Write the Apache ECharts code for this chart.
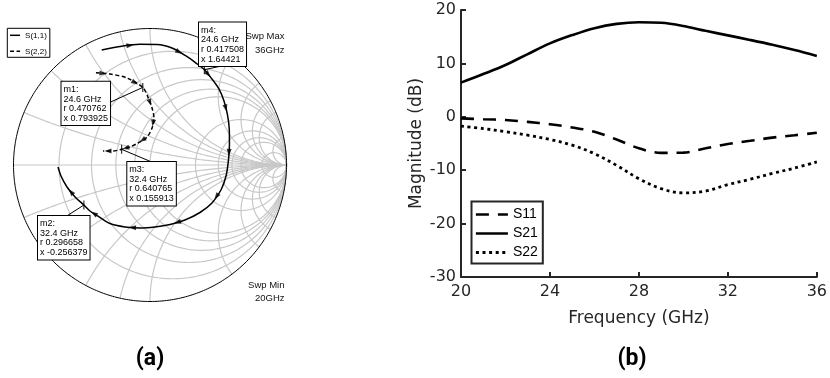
<!DOCTYPE html>
<html><head><meta charset="utf-8">
<script src="https://cdn.jsdelivr.net/npm/echarts@6/dist/echarts.min.js"></script>
<style>html,body{margin:0;padding:0;background:#fff}#c{width:830px;height:378px}</style>
</head><body><div id="c"></div>
<script>
// ---------- (b) S-parameter magnitudes (dB) ----------
const freqGHz = [20,21,22,23,24,25,26,27,28,29,30,31,32,33,34,35,36];
const s11dB = [-0.3,-0.45,-0.6,-0.95,-1.4,-2.0,-2.8,-4.25,-5.9,-6.75,-6.7,-5.9,-5.1,-4.5,-3.9,-3.45,-3.0];
const s21dB = [6.4,8.0,9.7,11.75,13.75,15.3,16.6,17.4,17.7,17.6,17.0,16.1,15.25,14.4,13.5,12.5,11.4];
const s22dB = [-1.75,-2.2,-2.8,-3.45,-4.25,-5.3,-6.9,-9.1,-11.6,-13.45,-14.25,-13.9,-12.7,-11.7,-10.6,-9.6,-8.45];
const xTickStep = 4;
const yTickStep = 10;

// ---------- (a) Smith chart traces: reflection coefficient (re, im), 20 -> 36 GHz ----------
const s11Re = [-0.354,-0.220,-0.073,0.051,0.161,0.264,0.337,0.398,0.454,0.505,0.542,0.568,0.581,0.582,0.575,0.557,0.520,0.454,0.366,0.256,0.147,0.037,-0.073,-0.183,-0.293,-0.381,-0.440,-0.484,-0.549,-0.608,-0.652,-0.674];
const s11Im = [0.842,0.868,0.884,0.883,0.857,0.799,0.747,0.698,0.630,0.557,0.469,0.366,0.256,0.147,0.037,-0.081,-0.183,-0.278,-0.348,-0.403,-0.436,-0.454,-0.462,-0.454,-0.429,-0.374,-0.337,-0.294,-0.234,-0.161,-0.081,-0.015];
const s22Re = [-0.396,-0.293,-0.168,-0.053,-0.015,0.015,0.029,0.015,-0.022,-0.088,-0.147,-0.208,-0.271,-0.344];
const s22Im = [0.676,0.667,0.637,0.568,0.498,0.418,0.344,0.271,0.205,0.161,0.132,0.115,0.103,0.103];

// markers (normalized impedance)
const markerNames = ['m1','m2','m3','m4'];
const markerFreq = [24.6, 32.4, 32.4, 24.6];
const markerR = [0.470762, 0.296658, 0.640765, 0.417508];
const markerX = [0.793925, -0.256379, 0.155913, 1.64421];
const sweepMinGHz = 20, sweepMaxGHz = 36;

// Smith grid values
const gridR = [0.2,0.4,0.6,0.8,1,2,3,4,5,10];
const gridX = [0.2,0.4,0.6,0.8,1,2,3,4,5,10];

// ---------- helpers ----------
function z2g(r, x){ const d=(r+1)*(r+1)+x*x; return [(r*r-1+x*x)/d, 2*x/d]; }
const GRID_COLOR = '#c8c8c8';
function gridLine(pts, color, width){
  return {type:'line', xAxisIndex:0, yAxisIndex:0, data:pts, symbol:'none', silent:true,
    lineStyle:{color:color, width:width}, z:1, clip:false};
}
const series = [];
gridR.forEach(r=>{
  const c=r/(1+r), rho=1/(1+r), pts=[];
  for(let i=0;i<=240;i++){const p=2*Math.PI*i/240; pts.push([c+rho*Math.cos(p), rho*Math.sin(p)]);}
  series.push(gridLine(pts, GRID_COLOR, 1.2));
});
gridX.forEach(xv=>{
  [xv,-xv].forEach(x=>{
    const pts=[];
    for(let i=0;i<=220;i++){const t=i/220; const r=t<1? t/(1-t) : 1e9; pts.push(z2g(r,x));}
    series.push(gridLine(pts, GRID_COLOR, 1.2));
  });
});
series.push(gridLine([[-1,0],[1,0]], GRID_COLOR, 1.2));
(function(){const pts=[];for(let i=0;i<=360;i++){const p=2*Math.PI*i/360;pts.push([Math.cos(p),Math.sin(p)]);}
  series.push(gridLine(pts,'#000',1));})();

function zip(a,b){return a.map((v,i)=>[v,b[i]]);}
series.push({type:'line', name:'S(1,1)', xAxisIndex:0, yAxisIndex:0, data:zip(s11Re,s11Im), symbol:'none', smooth:0.3,
  itemStyle:{color:'#000'}, lineStyle:{color:'#000', width:1.5}, z:3});
series.push({type:'line', name:'S(2,2)', xAxisIndex:0, yAxisIndex:0, data:zip(s22Re,s22Im), symbol:'none', smooth:0.3,
  itemStyle:{color:'#000'}, lineStyle:{color:'#000', width:1.5, type:[4,2.5]}, z:3});

function arrowData(re, im, step, offset){
  const out=[];
  for(let i=offset;i<re.length-1;i+=step){
    const mx=(re[i]+re[i+1])/2, my=(im[i]+im[i+1])/2;
    const ang=Math.atan2(im[i+1]-im[i], re[i+1]-re[i])*180/Math.PI;
    out.push({value:[mx,my], symbolRotate: ang-90});
  }
  return out;
}
series.push({type:'scatter', xAxisIndex:0, yAxisIndex:0, symbol:'triangle', symbolSize:[5,7], silent:true,
  itemStyle:{color:'#000'}, data:arrowData(s11Re,s11Im,3,1), z:4});
series.push({type:'scatter', xAxisIndex:0, yAxisIndex:0, symbol:'triangle', symbolSize:[5,7], silent:true,
  itemStyle:{color:'#000'}, data:arrowData(s22Re,s22Im,2,0), z:4});
series.push({type:'scatter', xAxisIndex:0, yAxisIndex:0, symbol:'rect', symbolSize:[1.2,9], silent:true,
  itemStyle:{color:'#000'}, data:markerNames.map((n,i)=>z2g(markerR[i],markerX[i])), z:5});

// (b) lines
const AX = '#262626';
series.push({type:'line', name:'S11', xAxisIndex:1, yAxisIndex:1, data:zip(freqGHz,s11dB), symbol:'none', smooth:0.35,
  itemStyle:{color:'#000'}, lineStyle:{color:'#000', width:2.6, type:[13,9]}});
series.push({type:'line', name:'S21', xAxisIndex:1, yAxisIndex:1, data:zip(freqGHz,s21dB), symbol:'none', smooth:0.35,
  itemStyle:{color:'#000'}, lineStyle:{color:'#000', width:2.6}});
series.push({type:'line', name:'S22', xAxisIndex:1, yAxisIndex:1, data:zip(freqGHz,s22dB), symbol:'none', smooth:0.35,
  itemStyle:{color:'#000'}, lineStyle:{color:'#000', width:2.8, type:[3,3.6]}});

const chart = echarts.init(document.getElementById('c'), null, {renderer:'canvas', width:830, height:378});
const axisCommon = {
  axisLine:{show:true, onZero:false, lineStyle:{color:AX, width:2}},
  axisTick:{show:true, inside:true, length:5, lineStyle:{color:AX, width:2}},
  splitLine:{show:false},
  nameLocation:'middle',
  nameTextStyle:{fontSize:17, color:AX, fontFamily:'DejaVu Sans'}
};
chart.setOption({
  animation:false,
  backgroundColor:'#fff',
  grid:[{left:13.5, top:28.5, width:273, height:273, show:false},
        {left:461, top:10, width:360, height:267, show:false}],
  xAxis:[{gridIndex:0, type:'value', min:-1, max:1, show:false},
    Object.assign({gridIndex:1, type:'value', min:20, max:36, interval:xTickStep, name:'Frequency (GHz)', nameGap:33,
      axisLabel:{color:AX, fontSize:16, fontFamily:'DejaVu Sans', margin:7}}, axisCommon)],
  yAxis:[{gridIndex:0, type:'value', min:-1, max:1, show:false},
    Object.assign({gridIndex:1, type:'value', min:-30, max:20, interval:yTickStep, name:'Magnitude (dB)', nameGap:36,
      axisLabel:{color:AX, fontSize:16, fontFamily:'DejaVu Sans', margin:5}}, axisCommon)],
  legend:[
    {data:['S(1,1)','S(2,2)'], orient:'vertical', left:7.3, top:28.3, itemWidth:10, itemHeight:8, itemGap:8,
     padding:[3,3,2,2], borderColor:'#000', borderWidth:1, backgroundColor:'#fff', selectedMode:false,
     itemStyle:{opacity:0}, lineStyle:{width:'inherit', opacity:1},
     textStyle:{fontSize:8, fontFamily:'Liberation Sans', color:'#000'}},
    {data:['S11','S21','S22'], orient:'vertical', left:471.5, top:201.5, itemWidth:32, itemHeight:14, itemGap:5,
     padding:[6,5,4,3], borderColor:AX, borderWidth:2, backgroundColor:'#fff', selectedMode:false,
     itemStyle:{opacity:0}, lineStyle:{width:'inherit', opacity:1},
     textStyle:{fontSize:14, fontFamily:'Liberation Sans', color:'#000'}}
  ],
  series:series
});

// annotations
const boxes = {m1:{x:61.5,y:81.7,ax:108.5,ay:103}, m2:{x:38,y:216,ax:66.7,ay:216},
               m3:{x:127.3,y:162,ax:151.7,ay:162}, m4:{x:199,y:22.5,ax:220,ay:66.3}};
const graphics = [];
markerNames.forEach((n,i)=>{
  const p = chart.convertToPixel({gridIndex:0}, z2g(markerR[i], markerX[i]));
  const b = boxes[n];
  graphics.push({type:'line', silent:true, z:90, shape:{x1:p[0],y1:p[1],x2:b.ax,y2:b.ay}, style:{stroke:'#000', lineWidth:1}});
  graphics.push({type:'text', silent:true, z:100, x:b.x, y:b.y, style:{
    text:[n+':', markerFreq[i]+' GHz', 'r '+markerR[i], 'x '+markerX[i]].join('\n'),
    font:'9px "Liberation Sans"', lineHeight:9.6, fill:'#000', align:'left', verticalAlign:'top',
    backgroundColor:'#fff', borderColor:'#000', borderWidth:1, padding:[3,2,2,2]}});
});
graphics.push({type:'text', silent:true, z:100, x:284.5, y:43.3, style:{text:'Swp Max\n'+sweepMaxGHz+'GHz',
  align:'right', verticalAlign:'middle', font:'9.5px "Liberation Sans"', lineHeight:13.3, fill:'#111'}});
graphics.push({type:'text', silent:true, z:100, x:284.5, y:291.7, style:{text:'Swp Min\n'+sweepMinGHz+'GHz',
  align:'right', verticalAlign:'middle', font:'9.5px "Liberation Sans"', lineHeight:13.3, fill:'#111'}});
graphics.push({type:'text', silent:true, z:100, x:150, y:359, style:{text:'(a)', align:'center', verticalAlign:'middle',
  font:'bold 23px Roboto', fill:'#000'}});
graphics.push({type:'text', silent:true, z:100, x:632, y:359, style:{text:'(b)', align:'center', verticalAlign:'middle',
  font:'bold 23px Roboto', fill:'#000'}});
chart.setOption({graphic:graphics});
</script>
</body></html>
